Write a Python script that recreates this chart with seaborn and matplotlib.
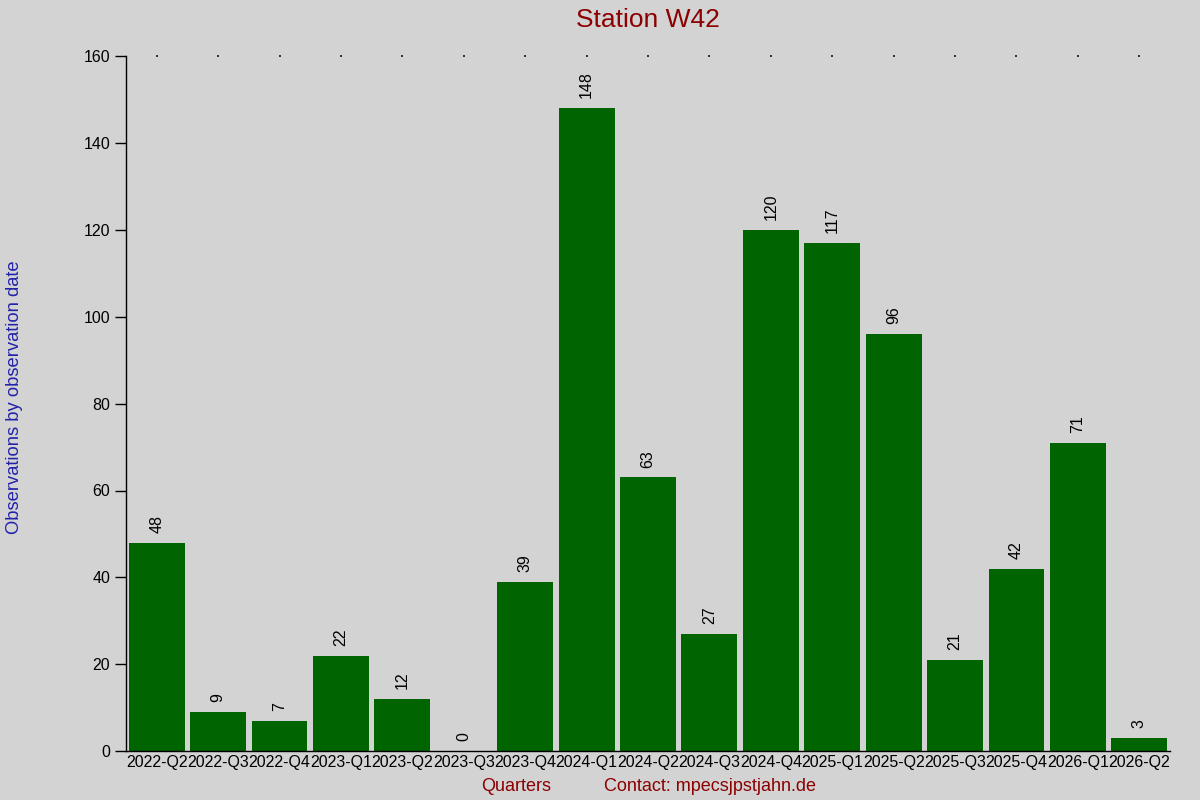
import numpy as np
import pandas as pd
import matplotlib
matplotlib.use("Agg")
import matplotlib.pyplot as plt
import seaborn as sns

# data
quarters = ["2022-Q2", "2022-Q3", "2022-Q4", "2023-Q1", "2023-Q2", "2023-Q3",
            "2023-Q4", "2024-Q1", "2024-Q2", "2024-Q3", "2024-Q4", "2025-Q1",
            "2025-Q2", "2025-Q3", "2025-Q4", "2026-Q1", "2026-Q2"]
counts = [48, 9, 7, 22, 12, 0, 39, 148, 63, 27, 120, 117, 96, 21, 42, 71, 3]
y_ticks = [0, 20, 40, 60, 80, 100, 120, 140, 160]

BG = "#d3d3d3"
BAR = "#006400"
RED = "#8b0000"
BLUE = "#2222aa"

sns.set_style("white")
plt.rcParams["font.family"] = ["Liberation Sans", "DejaVu Sans"]

df = pd.DataFrame({"quarter": quarters, "count": counts})

fig = plt.figure(figsize=(12, 8), dpi=100, facecolor=BG)
ax = fig.add_axes([0.105, 0.061, 0.87, 0.869])
ax.set_facecolor(BG)

sns.barplot(data=df, x="quarter", y="count", color=BAR, width=0.91,
            saturation=1, linewidth=0, edgecolor=BAR, ax=ax)

for cont in ax.containers:
    ax.bar_label(cont, labels=[str(c) for c in counts], rotation=90,
                 padding=7, fontsize=11.5, color="black")

# faint dots along the top edge
ax.scatter(range(len(quarters)), [y_ticks[-1]] * len(quarters), s=0.8,
           color="#333333", marker="s", linewidths=0, clip_on=False, zorder=5)

ax.set_xlim(-0.5, len(quarters) - 0.5)
ax.set_ylim(0, 160)
ax.set_yticks(y_ticks)
ax.tick_params(axis="y", length=8, width=1, direction="out", labelsize=11.5,
               colors="black", left=True)
ax.tick_params(axis="x", length=0, labelsize=11.5, pad=3, colors="black")

for side in ["top", "right"]:
    ax.spines[side].set_visible(False)
for side in ["left", "bottom"]:
    ax.spines[side].set_color("black")
    ax.spines[side].set_linewidth(1)

ax.set_xlabel("")
ax.set_ylabel("")

fig.text(0.54, 0.975, "Station W42", ha="center", va="center",
         fontsize=19, color=RED)
fig.text(0.012, 0.503, "Observations by observation date", rotation=90,
         ha="center", va="center", fontsize=13.2, color=BLUE)
fig.text(0.43, 0.017, "Quarters", ha="center", va="center",
         fontsize=13, color=RED)
fig.text(0.592, 0.017, "Contact: mpecsjpstjahn.de", ha="center", va="center",
         fontsize=13, color=RED)

fig.savefig("out.png", dpi=100, facecolor=BG)
